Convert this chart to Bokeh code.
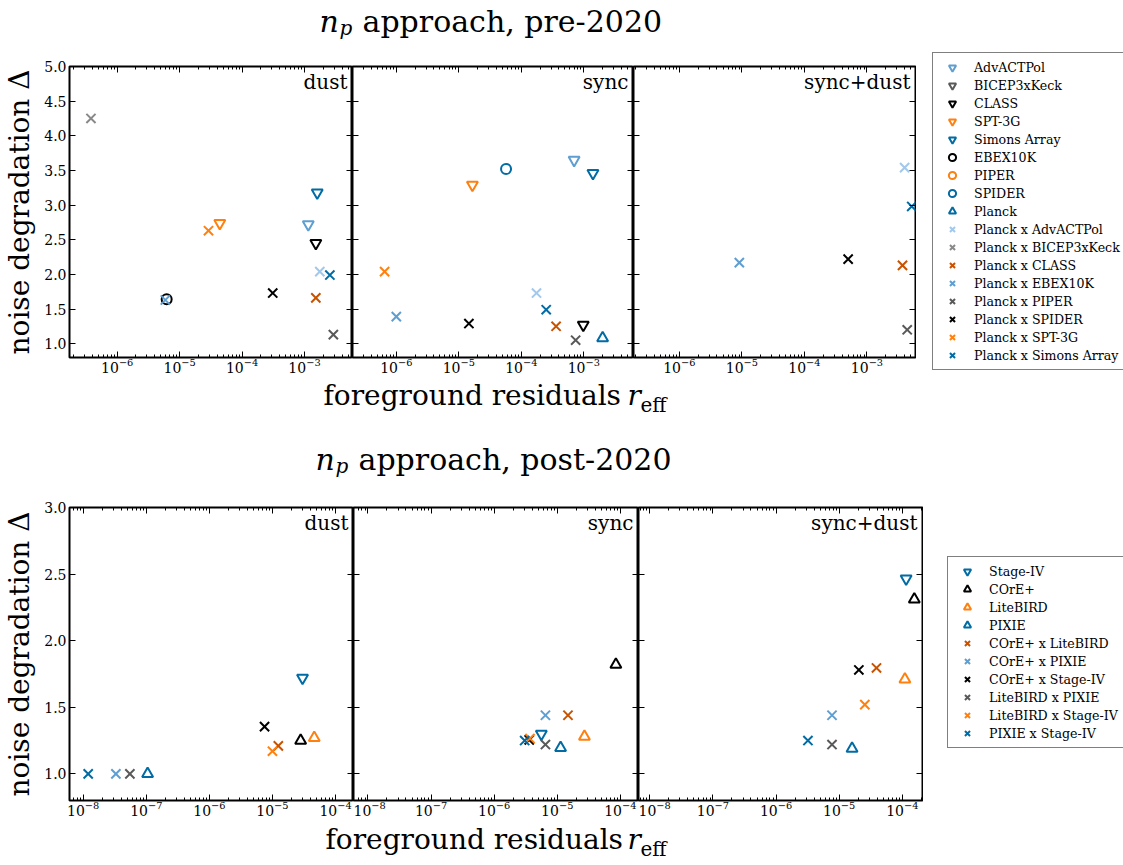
from bokeh.plotting import figure
from bokeh.models import (Range1d, LogAxis, LinearAxis, LogTicker, FixedTicker,
                          PrintfTickFormatter, Label, Legend, LegendItem,
                          ColumnDataSource)
from bokeh.layouts import column, row
from bokeh.embed import file_html
from bokeh.resources import INLINE

SERIF = "DejaVu Serif"

# ------------------------------------------------------------------ data
pre_series = ["AdvACTPol", "BICEP3xKeck", "CLASS", "SPT-3G", "Simons Array",
              "EBEX10K", "PIPER", "SPIDER", "Planck",
              "Planck x AdvACTPol", "Planck x BICEP3xKeck", "Planck x CLASS",
              "Planck x EBEX10K", "Planck x PIPER", "Planck x SPIDER",
              "Planck x SPT-3G", "Planck x Simons Array"]

post_series = ["Stage-IV", "COrE+", "LiteBIRD", "PIXIE",
               "COrE+ x LiteBIRD", "COrE+ x PIXIE", "COrE+ x Stage-IV",
               "LiteBIRD x PIXIE", "LiteBIRD x Stage-IV", "PIXIE x Stage-IV"]

# pre-2020, dust
pre_dust_names = ["AdvACTPol", "CLASS", "SPT-3G", "Simons Array", "EBEX10K",
                  "Planck x AdvACTPol", "Planck x BICEP3xKeck", "Planck x CLASS",
                  "Planck x EBEX10K", "Planck x PIPER", "Planck x SPIDER",
                  "Planck x SPT-3G", "Planck x Simons Array"]
pre_dust_r = [1.15e-3, 1.52e-3, 4.4e-5, 1.6e-3, 6.2e-6,
              1.76e-3, 3.8e-7, 1.52e-3,
              5.9e-6, 2.9e-3, 3.1e-4,
              2.9e-5, 2.55e-3]
pre_dust_delta = [2.72, 2.45, 2.74, 3.18, 1.64,
                  2.04, 4.25, 1.66,
                  1.63, 1.13, 1.73,
                  2.63, 1.99]

# pre-2020, sync
pre_sync_names = ["AdvACTPol", "CLASS", "SPT-3G", "Simons Array", "SPIDER", "Planck",
                  "Planck x AdvACTPol", "Planck x CLASS", "Planck x EBEX10K",
                  "Planck x PIPER", "Planck x SPIDER", "Planck x SPT-3G",
                  "Planck x Simons Array"]
pre_sync_r = [7.0e-4, 9.8e-4, 1.65e-5, 1.4e-3, 5.7e-5, 2.0e-3,
              1.75e-4, 3.6e-4, 1.0e-6,
              7.4e-4, 1.45e-5, 6.5e-7,
              2.5e-4]
pre_sync_delta = [3.65, 1.27, 3.29, 3.46, 3.52, 1.08,
                  1.73, 1.25, 1.39,
                  1.05, 1.29, 2.04,
                  1.49]

# pre-2020, sync+dust
pre_both_names = ["Planck x AdvACTPol", "Planck x CLASS", "Planck x EBEX10K",
                  "Planck x PIPER", "Planck x SPIDER", "Planck x Simons Array"]
pre_both_r = [4.0e-3, 3.7e-3, 9.1e-6, 4.4e-3, 5.0e-4, 5.2e-3]
pre_both_delta = [3.54, 2.13, 2.17, 1.20, 2.22, 2.98]

# post-2020, dust
post_dust_names = post_series
post_dust_r = [3.0e-5, 2.8e-5, 4.6e-5, 1.05e-7,
               1.24e-5, 3.3e-8, 7.5e-6,
               5.5e-8, 1.0e-5, 1.2e-8]
post_dust_delta = [1.72, 1.25, 1.27, 1.0,
                   1.21, 1.0, 1.355,
                   1.0, 1.17, 1.0]

# post-2020, sync
post_sync_names = post_series
post_sync_r = [5.6e-6, 8.5e-5, 2.7e-5, 1.13e-5,
               1.48e-5, 6.5e-6, 3.6e-6,
               6.5e-6, 3.7e-6, 3.05e-6]
post_sync_delta = [1.30, 1.82, 1.28, 1.195,
                   1.44, 1.44, 1.255,
                   1.22, 1.265, 1.25]

# post-2020, sync+dust
post_both_names = post_series
post_both_r = [1.15e-4, 1.55e-4, 1.1e-4, 1.6e-5,
               3.9e-5, 7.7e-6, 2.05e-5,
               7.7e-6, 2.55e-5, 3.2e-6]
post_both_delta = [2.465, 2.31, 1.71, 1.19,
                   1.795, 1.44, 1.78,
                   1.22, 1.52, 1.25]

pre_y_ticks = [1.0, 1.5, 2.0, 2.5, 3.0, 3.5, 4.0, 4.5, 5.0]
post_y_ticks = [1.0, 1.5, 2.0, 2.5, 3.0]

# ------------------------------------------------------------------ styles
BLUE, ORANGE, DGREY = "#006BA4", "#FF800E", "#595959"
MBLUE, DORANGE, GREY, LBLUE = "#5F9ED1", "#C85200", "#898989", "#A2C8EC"

STYLE = {
    "AdvACTPol": ("inverted_triangle", MBLUE),
    "BICEP3xKeck": ("inverted_triangle", DGREY),
    "CLASS": ("inverted_triangle", "black"),
    "SPT-3G": ("inverted_triangle", ORANGE),
    "Simons Array": ("inverted_triangle", BLUE),
    "EBEX10K": ("circle", "black"),
    "PIPER": ("circle", ORANGE),
    "SPIDER": ("circle", BLUE),
    "Planck": ("triangle", BLUE),
    "Planck x AdvACTPol": ("x", LBLUE),
    "Planck x BICEP3xKeck": ("x", GREY),
    "Planck x CLASS": ("x", DORANGE),
    "Planck x EBEX10K": ("x", MBLUE),
    "Planck x PIPER": ("x", DGREY),
    "Planck x SPIDER": ("x", "black"),
    "Planck x SPT-3G": ("x", ORANGE),
    "Planck x Simons Array": ("x", BLUE),
    "Stage-IV": ("inverted_triangle", BLUE),
    "COrE+": ("triangle", "black"),
    "LiteBIRD": ("triangle", ORANGE),
    "PIXIE": ("triangle", BLUE),
    "COrE+ x LiteBIRD": ("x", DORANGE),
    "COrE+ x PIXIE": ("x", MBLUE),
    "COrE+ x Stage-IV": ("x", "black"),
    "LiteBIRD x PIXIE": ("x", DGREY),
    "LiteBIRD x Stage-IV": ("x", ORANGE),
    "PIXIE x Stage-IV": ("x", BLUE),
}
MSIZE = {"inverted_triangle": 11, "triangle": 11, "circle": 10, "x": 13}
LEFT_W = 922        # width of the three-panel block (widest row)
LEG_W = 200         # width of the legend column
BASE_SHIFT = 0.27   # compensates the svg text baseline offset (fraction of font size)


def style_axis(ax, labels, minor, standoff=3):
    ax.axis_line_color = None
    ax.major_tick_in = 6
    ax.major_tick_out = 0
    ax.minor_tick_in = 3 if minor else 0
    ax.minor_tick_out = 0
    ax.major_tick_line_color = "black"
    ax.minor_tick_line_color = "black" if minor else None
    ax.major_tick_line_width = 1
    ax.minor_tick_line_width = 1
    ax.axis_label = None
    if labels:
        ax.major_label_text_font = SERIF
        ax.major_label_text_font_size = "14px"
        ax.major_label_text_color = "black"
        ax.major_label_standoff = standoff
    else:
        ax.major_label_text_font_size = "0px"
        ax.major_label_text_color = None
        ax.major_label_standoff = 0


def add_marks(p, series, names, rs, ds):
    for name in series:
        idx = [i for i, n in enumerate(names) if n == name]
        if not idx:
            continue
        marker, color = STYLE[name]
        src = ColumnDataSource(dict(r=[rs[i] for i in idx], d=[ds[i] for i in idx]))
        p.scatter("r", "d", source=src, marker=marker, size=MSIZE[marker],
                  line_color=color, fill_color=None, line_width=2)


def make_panel(series, names, rs, ds, xlog, ylim, yticks, fw, fh,
               bl, br, bt, bb, ylabel, tag):
    p = figure(title=None, x_axis_type="log",
               x_range=Range1d(10 ** xlog[0], 10 ** xlog[1]),
               y_range=Range1d(*ylim), frame_width=fw, frame_height=fh,
               min_border_left=bl, min_border_right=br, min_border_top=bt,
               min_border_bottom=bb, toolbar_location=None, output_backend="svg")
    p.xgrid.visible = False
    p.ygrid.visible = False
    p.outline_line_color = "black"
    p.outline_line_width = 2
    p.background_fill_color = "white"
    p.border_fill_color = "white"
    top = LogAxis()
    right = LinearAxis()
    p.add_layout(top, "above")
    p.add_layout(right, "right")
    p.below[0].ticker = LogTicker(num_minor_ticks=10)
    top.ticker = LogTicker(num_minor_ticks=10)
    p.left[0].ticker = FixedTicker(ticks=yticks)
    p.left[0].formatter = PrintfTickFormatter(format="%.1f")
    right.ticker = FixedTicker(ticks=yticks)
    style_axis(p.below[0], True, True, standoff=0)
    style_axis(top, False, True)
    style_axis(p.left[0], ylabel is not None, False, standoff=3)
    style_axis(right, False, False)
    if ylabel is not None:
        ax = p.left[0]
        ax.axis_label = ylabel
        ax.axis_label_text_font = SERIF
        ax.axis_label_text_font_size = "28px"
        ax.axis_label_text_font_style = "normal"
        ax.axis_label_text_color = "black"
        ax.axis_label_standoff = 5
    add_marks(p, series, names, rs, ds)
    p.add_layout(Label(x=fw - 5, y=fh - 21 + BASE_SHIFT * 20, x_units="screen",
                       y_units="screen", text=tag, text_align="right",
                       text_baseline="alphabetic", text_font=SERIF,
                       text_font_size="20px", text_color="black"))
    return p


def make_legend_fig(series, h, loc, standoff):
    lf = figure(title=None, width=LEG_W, height=h,
                x_range=Range1d(0, 1), y_range=Range1d(0, 1), min_border=0,
                toolbar_location=None, output_backend="svg",
                x_axis_location=None, y_axis_location=None)
    lf.outline_line_color = None
    lf.xgrid.visible = False
    lf.ygrid.visible = False
    items = []
    for name in series:
        marker, color = STYLE[name]
        # one point outside the frame, only so that the legend has a glyph to show
        r = lf.scatter(x=[-5.0], y=[-5.0], marker=marker, size=MSIZE[marker],
                       line_color=color, fill_color=None, line_width=2)
        items.append(LegendItem(label=name, renderers=[r]))
    leg = Legend(items=items, location=loc, padding=5, spacing=0,
                 label_height=18, glyph_height=18, glyph_width=28,
                 label_standoff=standoff, margin=0,
                 label_text_font=SERIF, label_text_font_size="12.6px",
                 label_text_color="black",
                 border_line_color="black", border_line_width=1,
                 background_fill_color="white", background_fill_alpha=1.0)
    lf.add_layout(leg)
    return lf


def strip(h, labels):
    s = figure(title=None, width=LEFT_W, height=h, x_range=Range1d(0, LEFT_W),
               y_range=Range1d(0, h), min_border=0, toolbar_location=None,
               output_backend="svg", x_axis_location=None, y_axis_location=None)
    s.outline_line_color = None
    s.xgrid.visible = False
    s.ygrid.visible = False
    for x, y, text, size, style in labels:
        s.add_layout(Label(x=x, y=y + BASE_SHIFT * size, text=text, text_font=SERIF,
                           text_font_size="%gpx" % size, text_font_style=style,
                           text_align="left", text_baseline="alphabetic",
                           text_color="black"))
    return s


YLABEL = "noise degradation \u0394"

# ------------------------------------------------------------------ top row
t1 = make_panel(pre_series, pre_dust_names, pre_dust_r, pre_dust_delta,
                (-6.764, -2.231), (0.8, 5.0), pre_y_ticks, 283, 291, 68, 0, 16, 19, YLABEL, "dust")
t2 = make_panel(pre_series, pre_sync_names, pre_sync_r, pre_sync_delta,
                (-6.701, -2.205), (0.8, 5.0), pre_y_ticks, 281, 291, 0, 0, 16, 19, None, "sync")
t3 = make_panel(pre_series, pre_both_names, pre_both_r, pre_both_delta,
                (-6.733, -2.224), (0.8, 5.0), pre_y_ticks, 282, 291, 0, 1, 16, 19, None, "sync+dust")

# ------------------------------------------------------------------ bottom row
b1 = make_panel(post_series, post_dust_names, post_dust_r, post_dust_delta,
                (-8.217, -3.715), (0.8, 3.0), post_y_ticks, 284, 293, 68, 0, 10, 19, YLABEL, "dust")
b2 = make_panel(post_series, post_sync_names, post_sync_r, post_sync_delta,
                (-8.229, -3.712), (0.8, 3.0), post_y_ticks, 285, 293, 0, 0, 10, 19, None, "sync")
b3 = make_panel(post_series, post_both_names, post_both_r, post_both_delta,
                (-8.179, -3.680), (0.8, 3.0), post_y_ticks, 284, 293, 0, 1, 10, 19, None, "sync+dust")

# ------------------------------------------------------------------ legends (right column)
tl = make_legend_fig(pre_series, 440, (9, 70), 8)
bl = make_legend_fig(post_series, 422, (24, 114), 8)

# ------------------------------------------------------------------ text strips
# (x, baseline measured up from the strip bottom, text, font px, style)
sA = strip(50, [(319, 21, "n", 30, "italic"),
                (339, 17, "p", 20, "italic"),
                (362, 21, "approach, pre-2020", 30, "normal")])
sB = strip(121, [(323, 94, "foreground residuals", 28, "normal"),
                 (627, 94, "r", 28, "italic"),
                 (640, 87, "eff", 20, "normal"),
                 (315, 30, "n", 30, "italic"),
                 (335, 26, "p", 20, "italic"),
                 (358, 30, "approach, post-2020", 30, "normal")])
sC = strip(43, [(325, 15, "foreground residuals", 28, "normal"),
                (627, 15, "r", 28, "italic"),
                (640, 8, "eff", 20, "normal")])

left = column(sA, row(t1, t2, t3), sB, row(b1, b2, b3), sC)
layout = row(left, column(tl, bl))
open("out.html", "w").write(file_html(layout, INLINE))
